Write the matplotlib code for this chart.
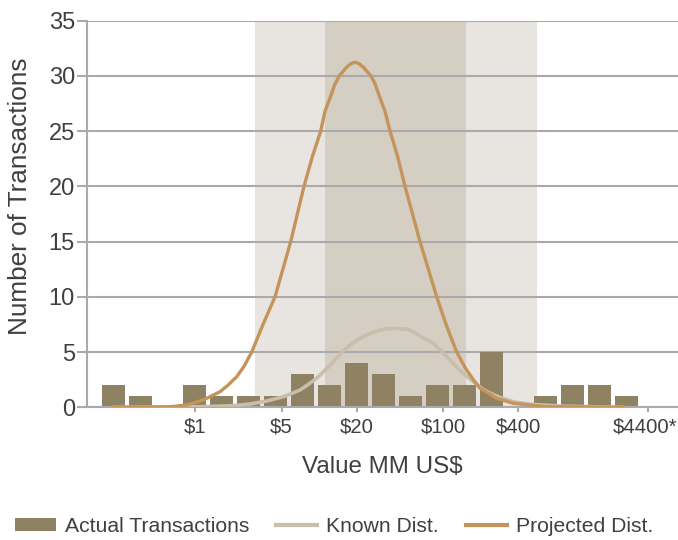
import numpy as np
import matplotlib
matplotlib.use('Agg')
from matplotlib import pyplot as plt
from matplotlib.patches import Patch
from matplotlib.lines import Line2D
from matplotlib.transforms import ScaledTranslation

plt.rcParams['font.family'] = ['Liberation Sans', 'DejaVu Sans']

# transactions per size bin (bins are log spaced, 6 per factor of 20, bin 3 = $1)
counts = [2, 1, 0, 2, 1, 1, 1, 3, 2, 4, 3, 1, 2, 2, 5, 0, 1, 2, 2, 1]

# fitted curves (value MM US$, number of transactions)
proj_x = [0.217, 0.438, 0.634, 0.863, 1.174, 1.599, 1.854, 2.178, 2.493, 2.875,
          3.543, 4.425, 5.916, 7.565, 8.889, 10.31, 11.16, 12.24, 13.36, 14.54,
          16.68, 17.99, 19.45, 21.02, 22.67, 24.28, 26.15, 28.16, 30.90, 33.88,
          37.17, 42.55, 49.06, 64.75, 88.21, 104.8, 127.7, 148.9, 173.6, 196.5,
          236.5, 267.7, 364.0, 675.2, 2876]
proj_y = [0.0, 0.02, 0.05, 0.21, 0.66, 1.41, 2.0, 2.77, 3.7, 5.0,
          7.5, 10.0, 15.0, 20.0, 22.8, 25.0, 26.8, 28.0, 29.2, 30.0,
          30.8, 31.1, 31.24, 31.1, 30.8, 30.4, 30.0, 29.3, 28.0, 26.8,
          25.0, 22.8, 20.0, 15.0, 10.0, 7.5, 5.0, 3.6, 2.5, 1.72,
          1.2, 0.81, 0.36, 0.05, 0.0]

known_x = [0.217, 0.438, 1.104, 2.045, 2.786, 3.795, 5.159, 6.02, 7.028, 8.148,
           9.572, 11.16, 13.02, 15.20, 17.73, 20.56, 24.15, 26.64, 30.90, 35.16,
           40.76, 46.41, 51.84, 57.94, 64.75, 72.36, 82.81, 95.52, 112.8, 130.8,
           153.7, 179.2, 208.9, 240.9, 284.6, 364.0, 495.8, 912.9, 2876]
known_y = [0.0, 0.02, 0.05, 0.15, 0.3, 0.57, 0.96, 1.25, 1.57, 2.05,
           2.63, 3.35, 4.13, 4.95, 5.64, 6.15, 6.55, 6.75, 7.0, 7.12,
           7.15, 7.1, 7.05, 6.8, 6.45, 6.15, 5.8, 5.1, 4.3, 3.5,
           2.8, 2.2, 1.6, 1.25, 0.9, 0.5, 0.28, 0.1, 0.0]

# shaded ranges (MM US$)
outer_range = (3.06, 561)
inner_range = (11.2, 152)

tick_vals = [1, 5, 20, 100, 400, 4400]
tick_labels = ['\\$1', '\\$5', '\\$20', '\\$100', '\\$400', '\\$4400*']

bar_col = '#8f8262'
proj_col = '#c4945a'
known_col = '#c9bdab'
light_col = '#e8e4e0'
dark_col = '#d5cec2'
grid_col = '#aaaaae'
text_col = '#404040'

W, H = 678, 540
fig = plt.figure(figsize=(W / 100, H / 100), dpi=100)
ax = fig.add_axes([87.3 / W, (H - 407.3) / H, 1 - 87.3 / W, (407.3 - 20.7) / H])
ax.set_xscale('log')

ax.axvspan(*outer_range, color=light_col, lw=0, zorder=0.1)
ax.axvspan(*inner_range, color=dark_col, lw=0, zorder=0.2)

step = np.log10(20) / 6
half = step * 0.43
for i, c in enumerate(counts):
    if c == 0:
        continue
    mid = (i - 3) * step
    lo, hi = 10 ** (mid - half), 10 ** (mid + half)
    ax.bar(lo, c, width=hi - lo, align='edge', color=bar_col, lw=0, zorder=2)

ax.plot(known_x, known_y, color=known_col, lw=2.6, zorder=3, solid_capstyle='butt')
ax.plot(proj_x, proj_y, color=proj_col, lw=2.4, zorder=4, solid_capstyle='butt')

ax.set_xlim(0.1372, 7669)
ax.set_ylim(0, 35)
ax.set_yticks(range(0, 36, 5))
ax.set_xticks(tick_vals)
ax.set_xticklabels(tick_labels)
ax.xaxis.set_minor_locator(matplotlib.ticker.NullLocator())

ax.yaxis.grid(True, color=grid_col, lw=1.5)
ax.set_axisbelow(True)
for s in ['top', 'right']:
    ax.spines[s].set_visible(False)
for s in ['left', 'bottom']:
    ax.spines[s].set_color(grid_col)
    ax.spines[s].set_linewidth(1.5)
ax.tick_params(axis='y', length=7.2, width=1.5, color=grid_col, pad=1.7,
               labelsize=17, labelcolor=text_col)
ax.tick_params(axis='x', length=3.6, width=1.5, color=grid_col, pad=4,
               labelsize=14.6, labelcolor=text_col)
# keep the last label inside the canvas
last = ax.get_xticklabels()[-1]
last.set_transform(last.get_transform() + ScaledTranslation(-3 / 100, 0, fig.dpi_scale_trans))

ax.set_xlabel('Value MM US\\$', fontsize=17.4, color=text_col, labelpad=13.5)
ax.set_ylabel('Number of Transactions', fontsize=18.8, color=text_col, labelpad=12)
ax.yaxis.label.set_y(0.545)

handles = [Patch(color=bar_col, lw=0),
           Line2D([], [], color=known_col, lw=3),
           Line2D([], [], color=proj_col, lw=3)]
labels = ['Actual Transactions', 'Known Dist.', 'Projected Dist.']
leg = fig.legend(handles, labels, loc='center left',
                 bbox_to_anchor=(15 / W, (H - 526.5) / H), ncol=3, frameon=False,
                 handlelength=1.94, handleheight=0.6, handletextpad=0.43,
                 columnspacing=1.28, borderpad=0, borderaxespad=0, fontsize=15.2)
for t in leg.get_texts():
    t.set_color(text_col)

fig.savefig('out.png', dpi=100)
